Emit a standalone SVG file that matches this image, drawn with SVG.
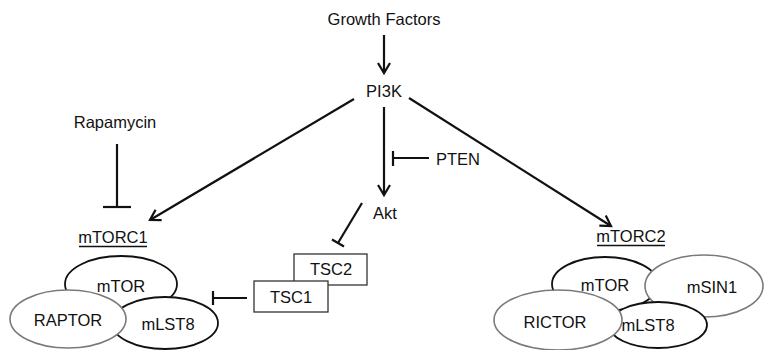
<svg xmlns="http://www.w3.org/2000/svg" width="764" height="350" viewBox="0 0 764 350">
<style>
text{font-family:"Liberation Sans",Arial,sans-serif;font-size:16.5px;fill:#111;text-anchor:middle}
.c line,.c path{stroke:#111;stroke-width:2.2;fill:none}
.k{fill:#fff;stroke:#111;stroke-width:1.8}
.g{fill:#fff;stroke:#7a7a7a;stroke-width:1.6}
.r{fill:#fff;stroke:#333;stroke-width:1.3}
.u{stroke:#111;stroke-width:1.3}
</style>
<defs>
<marker id="ar" markerUnits="userSpaceOnUse" markerWidth="16" markerHeight="16" viewBox="-12 -8 14 16" refX="0" refY="0" orient="auto">
<path d="M-10,-6 L0,0 L-10,6" fill="none" stroke="#111" stroke-width="2.2"/>
</marker>
</defs>
<g class="c" id="connectors">
<line x1="384" y1="35" x2="384" y2="73" marker-end="url(#ar)"/>
<line x1="384" y1="107" x2="384" y2="195" marker-end="url(#ar)"/>
<line x1="354" y1="99" x2="150" y2="220" marker-end="url(#ar)"/>
<line x1="409" y1="98" x2="611" y2="226" marker-end="url(#ar)"/>
<line x1="429" y1="158" x2="393" y2="158"/><line x1="393" y1="151" x2="393" y2="166"/>
<line x1="117" y1="144" x2="117" y2="207"/><line x1="103" y1="207" x2="131" y2="207"/>
<line x1="362" y1="203" x2="338" y2="243"/><line x1="332" y1="239.5" x2="344" y2="246.5"/>
<line x1="247" y1="298" x2="213" y2="298"/><line x1="213" y1="291" x2="213" y2="305"/>
</g>
<g id="growth"><text x="384" y="25">Growth Factors</text></g>
<g id="pi3k"><text x="384" y="97">PI3K</text></g>
<g id="akt"><text x="385" y="219">Akt</text></g>
<g id="pten"><text x="458" y="165">PTEN</text></g>
<g id="rapamycin"><text x="115" y="128">Rapamycin</text></g>
<g id="mtorc1-label"><text x="113" y="243">mTORC1</text><line class="u" x1="79" y1="246.5" x2="147" y2="246.5"/></g>
<g id="mtorc2-label"><text x="631" y="242">mTORC2</text><line class="u" x1="597" y1="245.5" x2="665" y2="245.5"/></g>
<g id="tsc2"><rect class="r" x="294" y="254" width="73" height="31"/><text x="331" y="275">TSC2</text></g>
<g id="tsc1"><rect class="r" x="254" y="281" width="74" height="31"/><text x="291" y="303">TSC1</text></g>
<g id="mtorc1">
<g id="mtor1"><ellipse class="k" cx="121" cy="284" rx="56" ry="28"/><text x="121" y="292">mTOR</text></g>
<g id="mlst8-1"><ellipse class="k" cx="165" cy="323" rx="53" ry="26"/><text x="168" y="330">mLST8</text></g>
<g id="raptor"><ellipse class="g" cx="68" cy="319" rx="58" ry="29"/><text x="68" y="326">RAPTOR</text></g>
</g>
<g id="mtorc2">
<g id="mtor2"><ellipse class="k" cx="605" cy="284" rx="53" ry="27"/><text x="605" y="291">mTOR</text></g>
<g id="msin1"><ellipse class="g" cx="704" cy="286" rx="59" ry="31"/><text x="712" y="293">mSIN1</text></g>
<g id="mlst8-2"><ellipse class="k" cx="658" cy="325" rx="49" ry="23"/><text x="648" y="331">mLST8</text></g>
<g id="rictor"><ellipse class="g" cx="558" cy="320" rx="64" ry="30"/><text x="555" y="328">RICTOR</text></g>
</g>
</svg>
